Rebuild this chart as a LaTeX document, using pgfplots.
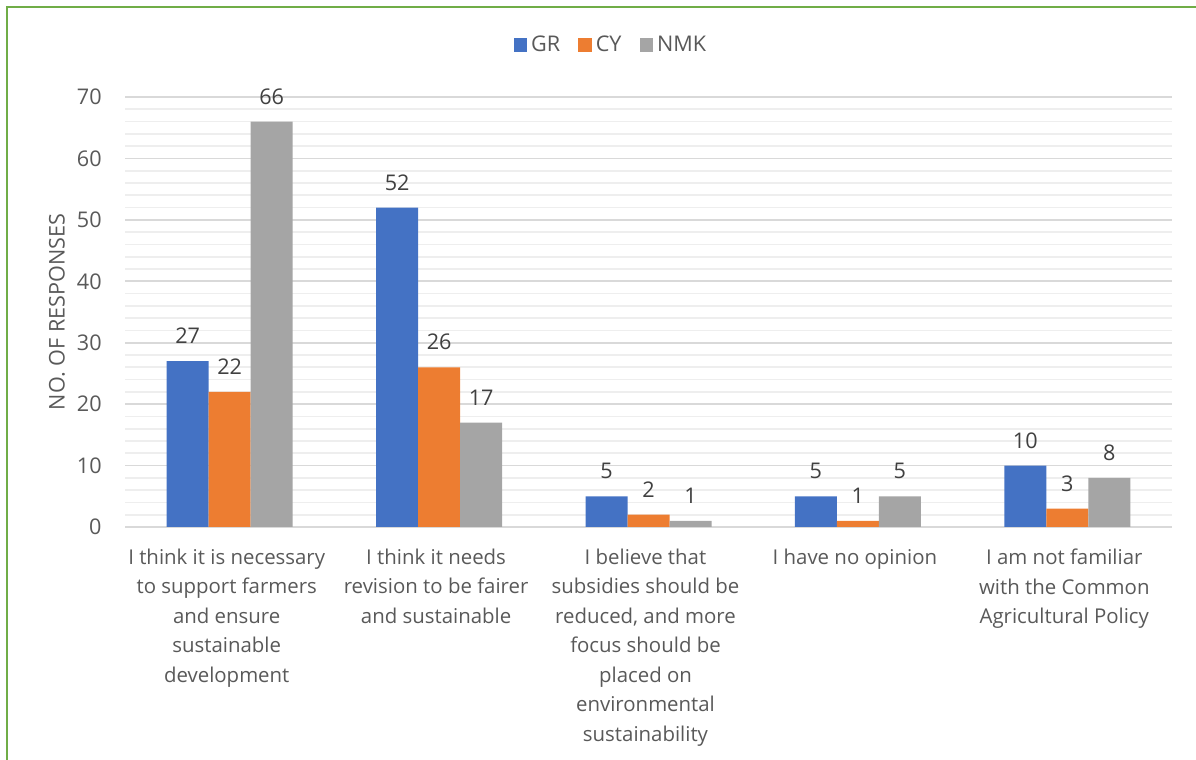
\documentclass[border=0pt]{standalone}
\usepackage{fontspec}
\setmainfont{Open Sans}
\usepackage{pgfplots}
\pgfplotsset{compat=1.18}
\definecolor{cGR}{HTML}{4472C4}
\definecolor{cCY}{HTML}{ED7D31}
\definecolor{cNMK}{HTML}{A5A5A5}
\definecolor{txt}{HTML}{595959}
\definecolor{lbl}{HTML}{404040}
\definecolor{majg}{HTML}{D9D9D9}
\definecolor{ming}{HTML}{EEEEEE}
\definecolor{frame}{HTML}{70AD47}
\begin{document}
\begin{tikzpicture}
\path[use as bounding box] (0,0) rectangle (598pt,380pt);
\draw[frame, line width=1.1pt] (3.5pt,0) -- (3.5pt,376.5pt) -- (598pt,376.5pt);
\begin{axis}[
  at={(62.5pt,116.5pt)}, anchor=south west,
  scale only axis, width=523.5pt, height=215pt,
  ybar=0pt, bar width=21pt,
  xmin=-0.5, xmax=4.5, ymin=0, ymax=70,
  xtick={0,1,2,3,4},
  xticklabels={
    {I think it is necessary\\to support farmers\\and ensure\\sustainable\\development},
    {I think it needs\\revision to be fairer\\and sustainable},
    {I believe that\\subsidies should be\\reduced, and more\\focus should be\\placed on\\environmental\\sustainability},
    {I have no opinion},
    {I am not familiar\\with the Common\\Agricultural Policy}},
  xticklabel style={align=center, anchor=north, inner sep=0pt, yshift=-6.5pt, xshift=-1.5pt,
     font=\fontsize{10.2}{14.75}\selectfont, text=txt},
  ytick={0,10,...,70},
  minor y tick num=4,
  ymajorgrids, yminorgrids,
  major grid style={majg, line width=0.8pt},
  minor grid style={ming, line width=0.8pt},
  axis line style={draw=none},
  tick style={draw=none},
  /pgf/number format/assume math mode=true,
  yticklabel style={font=\fontsize{10.8}{12}\selectfont, text=txt, inner sep=0pt, anchor=east, xshift=-11.5pt},
  ylabel={NO. OF RESPONSES},
  every axis y label/.style={at={(axis description cs:-0.065,0.5)}, rotate=90, anchor=center,
     font=\fontsize{10.8}{12}\selectfont, text=txt},
  nodes near coords,
  every node near coord/.append style={anchor=base, yshift=8.7pt, inner sep=0pt,
     font=\fontsize{10.8}{12}\selectfont, text=lbl},
  legend columns=3,
  legend style={at={(axis description cs:0.465,1.121)}, anchor=center, draw=none,
     font=\fontsize{10.8}{12}\selectfont, text=txt,
     /tikz/every even column/.append style={column sep=7pt}},
  legend image code/.code={\fill[#1] (0pt,-3.4pt) rectangle (6.8pt,3.4pt);},
]
\addplot[fill=cGR, draw=none] coordinates {(0,27) (1,52) (2,5) (3,5) (4,10)};
\addplot[fill=cCY, draw=none] coordinates {(0,22) (1,26) (2,2) (3,1) (4,3)};
\addplot[fill=cNMK, draw=none] coordinates {(0,66) (1,17) (2,1) (3,5) (4,8)};
\legend{GR,CY,NMK}
\end{axis}
\end{tikzpicture}
\end{document}
